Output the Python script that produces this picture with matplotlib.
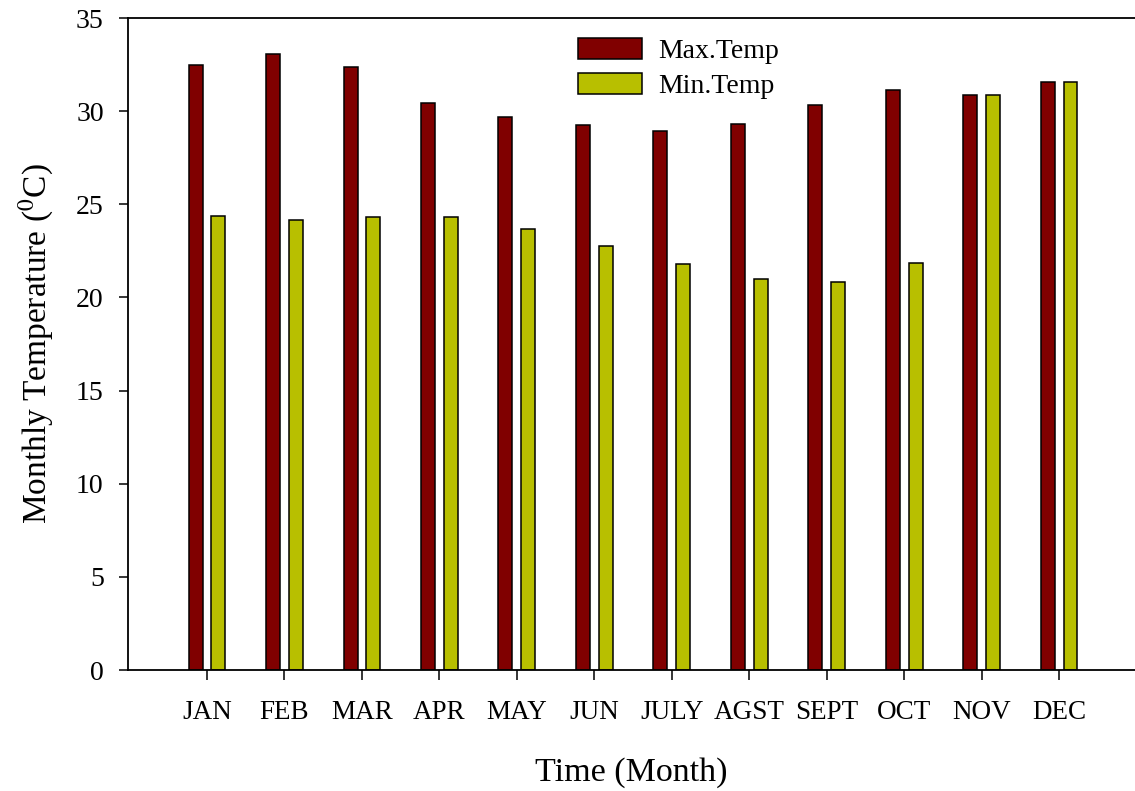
import numpy as np
import matplotlib
matplotlib.use("Agg")
import matplotlib.pyplot as plt

plt.rcParams['font.family'] = ['Liberation Serif', 'DejaVu Serif']
plt.rcParams['mathtext.fontset'] = 'stix'

months = ['JAN', 'FEB', 'MAR', 'APR', 'MAY', 'JUN',
          'JULY', 'AGST', 'SEPT', 'OCT', 'NOV', 'DEC']
max_temp = [32.46, 33.05, 32.37, 30.43, 29.68, 29.27,
            28.93, 29.32, 30.33, 31.11, 30.88, 31.56]
min_temp = [24.39, 24.15, 24.33, 24.33, 23.67, 22.78,
            21.79, 20.99, 20.84, 21.83, 30.88, 31.56]

x = np.arange(len(months))
w = 0.18
off = 0.147

fig = plt.figure(figsize=(11.35, 7.91), dpi=100)
ax = fig.add_axes([128/1135, 1 - 670/791, 1 - 128/1135, (670 - 18)/791])

ax.bar(x - off, max_temp, w, color='#800000', edgecolor='black',
       linewidth=1.1, label='Max.Temp')
ax.bar(x + off, min_temp, w, color='#b8bf00', edgecolor='black',
       linewidth=1.1, label='Min.Temp')

ax.set_xlim(-1.02, 11.98)
ax.set_ylim(0, 35)
ax.set_yticks(np.arange(0, 36, 5))
ax.set_xticks(x)
ax.set_xticklabels(months)

ax.spines['right'].set_visible(False)
for s in ['left', 'top', 'bottom']:
    ax.spines[s].set_linewidth(1.3)

ax.tick_params(axis='y', direction='out', length=6.5, width=1.1,
               labelsize=20, pad=11)
ax.tick_params(axis='x', direction='out', length=7.5, width=1.1,
               labelsize=19.5, pad=14)

ax.set_xlabel('Time (Month)', fontsize=24.5, labelpad=23)
ax.set_ylabel('Monthly Temperature ($^{0}$C)', fontsize=24, labelpad=14)

ax.legend(loc='upper left', bbox_to_anchor=(578/1135, 1 - 38/791),
          bbox_transform=fig.transFigure, frameon=False, fontsize=20,
          handlelength=2.3, handleheight=0.8, handletextpad=0.6,
          labelspacing=0.3, borderpad=0, borderaxespad=0)

fig.savefig('out.png', dpi=100)
